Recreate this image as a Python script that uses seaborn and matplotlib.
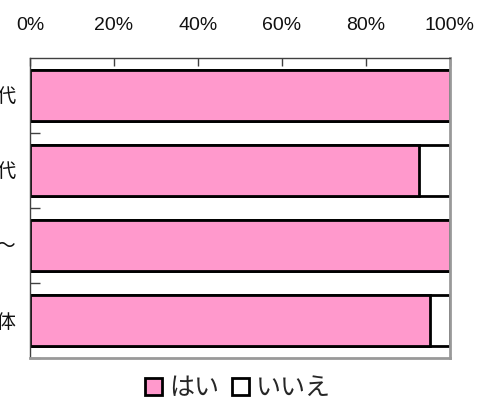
import matplotlib
matplotlib.use("Agg")
import matplotlib.pyplot as plt
import seaborn as sns
import pandas as pd
from matplotlib.patches import Patch
from matplotlib.ticker import PercentFormatter, FixedLocator

categories = ["20代", "30代", "60代〜", "全体"]
yes_vals = [100.0, 92.7, 100.0, 95.2]
no_vals = [0.0, 7.3, 0.0, 4.8]
series_names = ["はい", "いいえ"]
x_ticks = [0, 20, 40, 60, 80, 100]

pink = "#FF99CC"

sns.set_theme(style="white")
plt.rcParams["font.family"] = ["Liberation Sans", "Noto Sans CJK JP", "DejaVu Sans"]

df = pd.DataFrame({
    "category": categories,
    "yes": yes_vals,
    "total": [a + b for a, b in zip(yes_vals, no_vals)],
})

fig = plt.figure(figsize=(4.89, 4.0), dpi=100)
ax = fig.add_axes([30 / 489, 1 - 358 / 400, 420 / 489, 300 / 400])

sns.barplot(data=df, x="total", y="category", orient="h", color="white",
            edgecolor="black", linewidth=2, width=0.67, ax=ax, saturation=1)
sns.barplot(data=df, x="yes", y="category", orient="h", color=pink,
            edgecolor="black", linewidth=2, width=0.67, ax=ax, saturation=1)

ax.set_xlim(0, 100)
ax.set_ylim(3.5, -0.5)
ax.set_xlabel("")
ax.set_ylabel("")

ax.xaxis.set_major_locator(FixedLocator(x_ticks))
ax.xaxis.set_major_formatter(PercentFormatter(decimals=0))
ax.xaxis.tick_top()
ax.tick_params(axis="x", which="major", direction="in", length=6, width=1,
               color="#404040", labelsize=14, pad=17, top=True, bottom=False,
               labeltop=True, labelbottom=False, labelcolor="#111111")

ax.set_yticks(range(len(categories)))
ax.set_yticklabels(categories)
ax.tick_params(axis="y", which="major", length=0, labelsize=14, pad=10,
               labelcolor="#111111")
ax.set_yticks([0.5, 1.5, 2.5, 3.5], minor=True)
ax.tick_params(axis="y", which="minor", direction="in", length=7, width=1,
               color="#404040", left=True)

for side in ["left", "top"]:
    ax.spines[side].set_color("#404040")
    ax.spines[side].set_linewidth(1)
for side in ["right", "bottom"]:
    ax.spines[side].set_color("#999999")
    ax.spines[side].set_linewidth(2)

handles = [Patch(facecolor=pink, edgecolor="black", linewidth=2),
           Patch(facecolor="white", edgecolor="black", linewidth=2)]
fig.legend(handles, series_names, loc="center", bbox_to_anchor=(238 / 489, 1 - 388 / 400),
           ncol=2, frameon=False, fontsize=18, handlelength=0.68, handleheight=0.68,
           handletextpad=0.3, columnspacing=0.5, borderpad=0)

fig.savefig("out.png", dpi=100)
